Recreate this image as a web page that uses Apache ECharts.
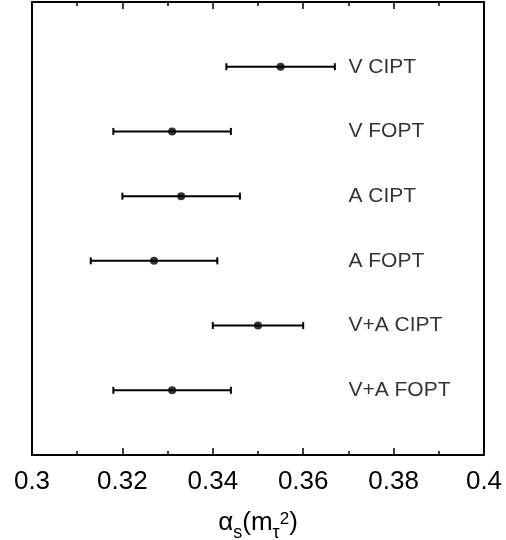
<!doctype html>
<html>
<head>
<meta charset="UTF-8">
<title>alpha_s</title>
<script src="https://cdn.jsdelivr.net/npm/echarts@6/dist/echarts.min.js"></script>
<style>
  html, body { margin: 0; padding: 0; background: #fff; }
  #main { width: 506px; height: 540px; }
</style>
</head>
<body>
<div id="main"></div>
<script>
// fits, top to bottom
var categories = ['V CIPT', 'V FOPT', 'A CIPT', 'A FOPT', 'V+A CIPT', 'V+A FOPT'];
var centers = [0.355, 0.331, 0.333, 0.327, 0.350, 0.331];
var lower = [0.343, 0.318, 0.320, 0.313, 0.340, 0.318];
var upper = [0.367, 0.344, 0.346, 0.341, 0.360, 0.344];
var labelX = 0.37;

var font = 'Liberation Sans, Arial, Helvetica, sans-serif';

var points = [], bars = [], names = [];
for (var i = 0; i < categories.length; i++) {
  points.push([centers[i], i + 1]);
  bars.push([lower[i], upper[i], i + 1]);
  names.push({ value: [labelX, i + 1], name: categories[i] });
}

var xTick = {
  min: 0.3, max: 0.4, interval: 0.02,
  axisLine: { show: true, onZero: false, lineStyle: { color: '#000', width: 2 } },
  axisTick: { show: true, inside: true, length: 7, lineStyle: { color: '#000', width: 1.5 } },
  minorTick: { show: true, splitNumber: 2, length: 4, lineStyle: { color: '#000', width: 1.5 } },
  splitLine: { show: false }
};

var chart = echarts.init(document.getElementById('main'));
chart.setOption({
  animation: false,
  grid: { left: 32, right: 22, top: 2, bottom: 85, outerBoundsMode: 'none', containLabel: false },
  xAxis: [
    Object.assign({
      type: 'value', position: 'bottom',
      axisLabel: { color: '#000', fontSize: 26, fontFamily: font, margin: 14 },
      name: '{a|α}{s|s}{a|(m}{s|τ}{p|2}{a|)}',
      nameLocation: 'middle', nameGap: 53,
      nameTextStyle: {
        rich: {
          a: { fontSize: 26, fontFamily: font, color: '#000', lineHeight: 30 },
          s: { fontSize: 18, fontFamily: font, color: '#000', lineHeight: 18, padding: [21, 0, 0, 0] },
          p: { fontSize: 17, fontFamily: font, color: '#000', lineHeight: 17, padding: [0, 0, 8, 0] }
        }
      }
    }, xTick),
    Object.assign({
      type: 'value', position: 'top',
      axisLabel: { show: false }
    }, xTick)
  ],
  yAxis: [
    { type: 'value', min: 0, max: 7, inverse: true, position: 'left',
      axisLine: { show: true, onZero: false, lineStyle: { color: '#000', width: 2 } },
      axisTick: { show: false }, axisLabel: { show: false }, splitLine: { show: false } },
    { type: 'value', min: 0, max: 7, inverse: true, position: 'right',
      axisLine: { show: true, onZero: false, lineStyle: { color: '#000', width: 2 } },
      axisTick: { show: false }, axisLabel: { show: false }, splitLine: { show: false } }
  ],
  series: [
    {
      type: 'custom',
      data: bars,
      renderItem: function (params, api) {
        var y = api.value(2);
        var a = api.coord([api.value(0), y]);
        var b = api.coord([api.value(1), y]);
        var h = 3.5;
        var st = { stroke: '#000', lineWidth: 2 };
        return {
          type: 'group',
          children: [
            { type: 'line', shape: { x1: a[0], y1: a[1], x2: b[0], y2: b[1] }, style: st },
            { type: 'line', shape: { x1: a[0], y1: a[1] - h, x2: a[0], y2: a[1] + h }, style: st },
            { type: 'line', shape: { x1: b[0], y1: b[1] - h, x2: b[0], y2: b[1] + h }, style: st }
          ]
        };
      }
    },
    {
      type: 'scatter',
      data: points,
      symbol: 'circle',
      symbolSize: 8,
      itemStyle: { color: '#000' },
      z: 5
    },
    {
      type: 'scatter',
      data: names,
      symbolSize: 0,
      label: {
        show: true, position: 'right', distance: 0,
        formatter: function (p) { return p.name; },
        color: '#000', fontSize: 21, fontFamily: font
      }
    }
  ]
});
</script>
</body>
</html>
